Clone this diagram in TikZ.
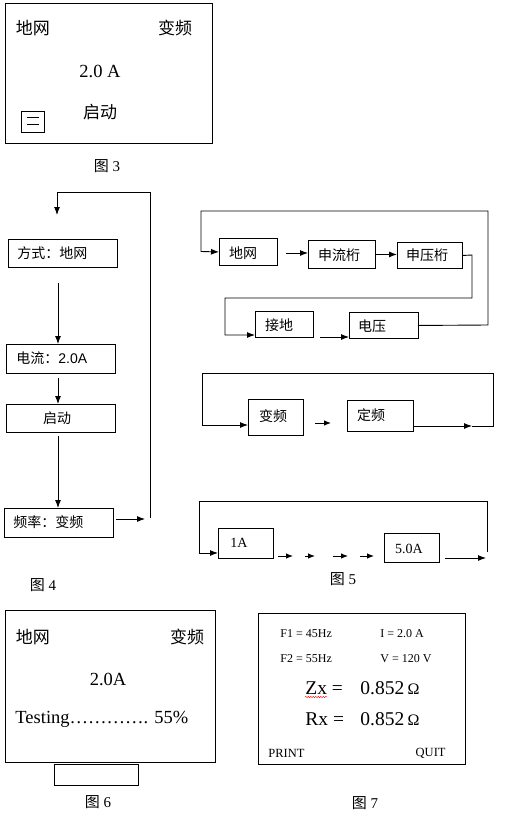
\documentclass[tikz,border=0pt]{standalone}
\usepackage{fontspec}
\setmainfont{Liberation Serif}
\newfontfamily\cjk{Noto Sans CJK SC}
\newfontfamily\sansf{Liberation Sans}
\usetikzlibrary{arrows.meta,decorations.pathmorphing}
\begin{document}
\begin{tikzpicture}[x=1pt,y=-1pt,line width=0.9pt,
  arr/.style={-{Latex[length=8pt,width=6pt]}},
  sarr/.style={-{Latex[length=7pt,width=5.5pt]}},
  bx/.style={draw,inner sep=0pt,anchor=north west},
  tbig/.style={font=\fontsize{17}{20}\selectfont\cjk,inner sep=0pt},
  nbig/.style={font=\fontsize{18.5}{20}\selectfont,inner sep=0pt},
  tfour/.style={font=\fontsize{14}{16}\selectfont\cjk,inner sep=0pt,anchor=west},
  tfive/.style={font=\fontsize{14}{16}\selectfont\cjk,inner sep=0pt},
  nfive/.style={font=\fontsize{14}{16}\selectfont,inner sep=0pt},
  tsmall/.style={font=\fontsize{12}{14}\selectfont,inner sep=0pt,anchor=west},
  tval/.style={font=\fontsize{19.5}{22}\selectfont,inner sep=0pt,anchor=west},
  capt/.style={font=\fontsize{15}{18}\selectfont,inner sep=0pt}]
\useasboundingbox (0,0) rectangle (507,819);
% ---------- Fig 3
\node[bx,minimum width=207,minimum height=140] (f3) at (5,3) {};
\node[tbig] (f3a) at (33,28) {地网};
\node[tbig] (f3b) at (175,28) {变频};
\node[nbig] (f3c) at (100,71) {2.0 A};
\node[tbig] (f3d) at (100,112) {启动};
\node[bx,minimum width=23,minimum height=21,line width=0.8pt] (f3e) at (21,111) {};
\draw[line width=0.8pt] (27,117.5) -- (39,117.5) (27,124.5) -- (39,124.5);
\node[capt] (cap3) at (107,166) {{\cjk 图} 3};
% ---------- Fig 4
\node[bx,minimum width=109,minimum height=28] (a4) at (8,239) {};
\node[tfour] at (17,253) {方式：地网};
\node[bx,minimum width=109,minimum height=29] (b4) at (6,344) {};
\node[tfour] at (16,358.5) {电流：{\sansf 2.0A}};
\node[bx,minimum width=109,minimum height=28] (c4) at (6,404) {};
\node[tfour,anchor=center] at (57,418) {启动};
\node[bx,minimum width=109,minimum height=29] (d4) at (4,508) {};
\node[tfour] at (13,522.5) {频率：变频};
\coordinate (l4a) at (57,215);
\coordinate (l4t) at (57,192);
\coordinate (r4t) at (150,192);
\coordinate (r4b) at (150,518);
\coordinate (a4s) at (58,283);
\coordinate (b4s) at (58,378);
\coordinate (c4s) at (58,436);
\coordinate (d4e) at (145,519);
\draw (r4b) -- (r4t) -- (l4t);
\draw[arr] (l4t) -- (l4a);
\draw[arr] (a4s) -- (a4s |- b4.north);
\draw[arr] (b4s) -- (b4s |- c4.north);
\draw[arr] (c4s) -- (c4s |- d4.north);
\draw[arr] (d4.east |- d4e) ++(2,0) -- (d4e);
\node[capt] (cap4) at (43,585) {{\cjk 图} 4};
% ---------- Fig 5 top
\node[bx,minimum width=58,minimum height=27] (g1) at (219,238) {};
\node[tfive] at (243,253) {地网};
\node[bx,minimum width=67,minimum height=28] (g2) at (308,240) {};
\node[tfive] at (339,255) {申流桁};
\node[bx,minimum width=65,minimum height=26] (g3) at (397,242) {};
\node[tfive] at (427,255) {申压桁};
\node[bx,minimum width=58,minimum height=26] (g4) at (255,311) {};
\node[tfive] at (279,325) {接地};
\node[bx,minimum width=69,minimum height=26] (g5) at (349,312) {};
\node[tfive] at (372,326) {电压};
\coordinate (g1s) at (286,253);
\coordinate (g3c) at (472,255);
\coordinate (g4a) at (225,335);
\coordinate (g4s) at (320,337);
\draw[arr] (g5.east) -- (488,325) -- (488,211) -- (201,211) -- (201,251.5) -- (g1.west);
\draw[arr] (g1s) -- (g1s -| g2.west);
\draw[arr] (g2.east) -- (g3.west |- g2.east);
\draw[arr] (g3.east) -- (g3c) -- (472,298) -- (225,298) -- (g4a) -- (g4a -| g4.west);
\draw[arr] (g4s) -- (g4s -| g5.west);
% ---------- Fig 5 middle
\node[bx,minimum width=55,minimum height=36] (h1) at (248,399) {};
\node[tfive] at (273,416) {变频};
\node[bx,minimum width=66,minimum height=31] (h2) at (347,400) {};
\node[tfive] at (371,415) {定频};
\coordinate (h1s) at (315,423);
\coordinate (h1e) at (331,423);
\coordinate (h2a) at (472,426);
\coordinate (h1a) at (202,425);
\draw[sarr] (h1s) -- (h1e);
\draw[arr] (h2.east |- h2a) -- (h2a);
\draw[arr] (h2a) -- (493,426) -- (493,373) -- (202,373) -- (h1a) -- (h1a -| h1.west);
% ---------- Fig 5 bottom
\node[bx,minimum width=55,minimum height=30] (k1) at (218,528) {};
\node[nfive] at (239,543) {1A};
\node[bx,minimum width=55,minimum height=29] (k2) at (384,533) {};
\node[nfive] at (409,549) {5.0A};
\coordinate (k1a) at (199,553);
\coordinate (k2a) at (486,558);
\draw[arr] (487,552) -- (487,501) -- (199,501) -- (k1a) -- (k1a -| k1.west);
\foreach \s/\e in {278/293,305/315,333/348,360/374}
  \draw[sarr] (\s,556) -- (\e,556);
\draw[arr] (k2.east |- k2a) ++(5,0) -- (k2a);
\node[capt] (cap5) at (343,579) {{\cjk 图} 5};
% ---------- Fig 6
\node[bx,minimum width=210,minimum height=152] (f6) at (5,610) {};
\node[tbig] at (33,637) {地网};
\node[tbig] at (187,637) {变频};
\node[nbig] at (108,679) {2.0A};
\node[nbig,anchor=west] at (15,719) {Testing…………. 55\%};
\node[bx,minimum width=84,minimum height=21] (f6b) at (54,764) {};
\node[capt] (cap6) at (98,802) {{\cjk 图} 6};
% ---------- Fig 7
\node[bx,minimum width=207,minimum height=151] (f7) at (258,613) {};
\node[tsmall] at (280,634) {F1 = 45Hz};
\node[tsmall] at (380,634) {I = 2.0 A};
\node[tsmall] at (280,659) {F2 = 55Hz};
\node[tsmall] at (380,659) {V = 120 V};
\node[tval] at (305,688) {Zx =};
\node[tval] at (360,688) {0.852\,{\fontsize{16}{18}\selectfont Ω}};
\node[tval] at (305,719) {Rx =};
\node[tval] at (360,719) {0.852\,{\fontsize{16}{18}\selectfont Ω}};
\draw[red,line width=0.4pt,decorate,decoration={snake,amplitude=0.7pt,segment length=2.5pt}] (305,697) -- (327,697);
\node[font=\fontsize{12.5}{14}\selectfont,inner sep=0pt,anchor=west] at (268,753) {PRINT};
\node[font=\fontsize{12.5}{14}\selectfont,inner sep=0pt,anchor=east] at (446,753) {QUIT};
\node[capt] (cap7) at (365,803) {{\cjk 图} 7};
\end{tikzpicture}
\end{document}
